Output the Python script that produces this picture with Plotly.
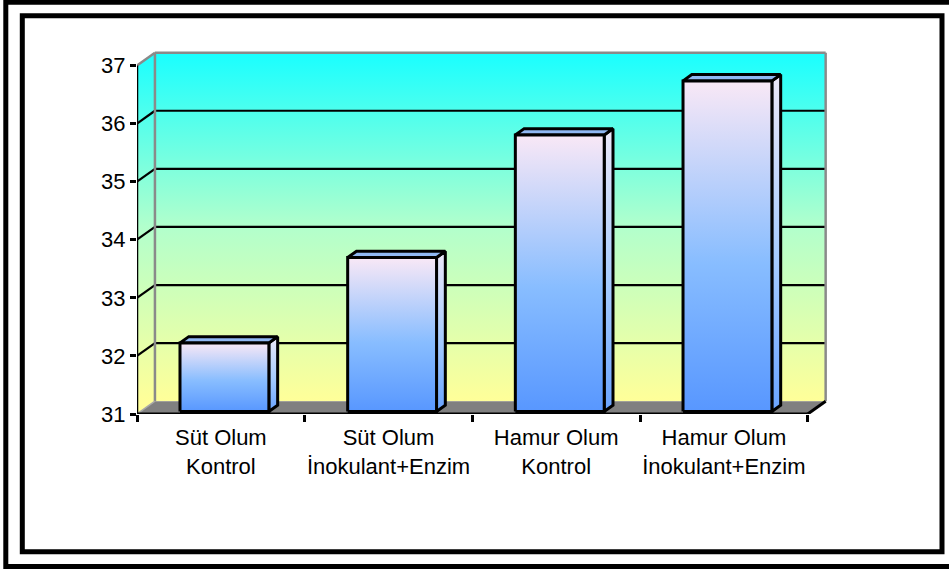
import plotly.graph_objects as go

# --- data ---------------------------------------------------------------
categories = [
    "Süt Olum<br>Kontrol",
    "Süt Olum<br>İnokulant+Enzim",
    "Hamur Olum<br>Kontrol",
    "Hamur Olum<br>İnokulant+Enzim",
]
values = [32.18, 33.65, 35.76, 36.69]
y_ticks = [31, 32, 33, 34, 35, 36, 37]

# --- layout geometry ----------------------------------------------------
W, H = 949, 572
M_L, M_R, M_T, M_B = 137, 120, 48, 158
PW, PH = W - M_L - M_R, H - M_T - M_B

Y_MIN, Y_MAX = y_ticks[0], y_ticks[-1]
DEPTH_X = 0.107   # oblique shift of the back plane (category units)
DEPTH_Y = 0.22    # oblique shift of the back plane (value units)
BAR_W = 0.53
BAR_D0, BAR_D1 = 0.2, 0.69

n = len(categories)
x_range = [0, n + DEPTH_X + 0.02]
y_range = [Y_MIN, Y_MAX + 0.3]

WALL_SCALE = [[0, "#ffff99"], [0.5, "#b2ffcc"], [1, "#19ffff"]]
FRONT_SCALE = [[0, "#5897ff"], [0.45, "#88bdff"], [1, "#f9e8f6"]]
SIDE_SCALE = [[0, "#6aa4ff"], [0.45, "#a6ccff"], [1, "#ece8f8"]]
TOP_COLOR = "#90b8f2"


def proj(x, v, d):
    """Oblique projection of a point at depth d (0 = front, 1 = back)."""
    return x + d * DEPTH_X, v + d * DEPTH_Y


fig = go.Figure()


def poly(pts, fillcolor=None, grad=None, line_color="rgba(0,0,0,0)", line_width=0):
    xs = [p[0] for p in pts] + [pts[0][0]]
    ys = [p[1] for p in pts] + [pts[0][1]]
    kw = dict(x=xs, y=ys, fill="toself", hoverinfo="skip", showlegend=False,
              mode="lines" if line_width else "none",
              line=dict(color=line_color, width=line_width))
    if grad is not None:
        kw["fillgradient"] = grad
    else:
        kw["fillcolor"] = fillcolor
    fig.add_trace(go.Scatter(**kw))


def seg(pts, color, width):
    xs, ys = [], []
    for a, b in pts:
        xs += [a[0], b[0], None]
        ys += [a[1], b[1], None]
    fig.add_trace(go.Scatter(x=xs, y=ys, mode="lines", hoverinfo="skip",
                             showlegend=False, line=dict(color=color, width=width)))


wall_grad = dict(type="vertical", colorscale=WALL_SCALE,
                 start=Y_MIN + DEPTH_Y, stop=Y_MAX + DEPTH_Y)

# side wall
poly([(0, Y_MIN), proj(0, Y_MIN, 1), proj(0, Y_MAX, 1), (0, Y_MAX)], grad=wall_grad)
# back wall
poly([proj(0, Y_MIN, 1), proj(n, Y_MIN, 1), proj(n, Y_MAX, 1), proj(0, Y_MAX, 1)],
     grad=wall_grad)
# floor
poly([(0, Y_MIN), (n, Y_MIN), proj(n, Y_MIN, 1), proj(0, Y_MIN, 1)], fillcolor="#808080")

# gridlines on side and back walls
grid = []
for v in y_ticks[1:-1]:
    grid.append(((0, v), proj(0, v, 1)))
    grid.append((proj(0, v, 1), proj(n, v, 1)))
seg(grid, "black", 2.2)

# wall borders
seg([(proj(0, Y_MIN, 1), proj(0, Y_MAX, 1)),
     (proj(0, Y_MAX, 1), proj(n, Y_MAX, 1)),
     (proj(n, Y_MAX, 1), proj(n, Y_MIN, 1)),
     ((0, Y_MAX), proj(0, Y_MAX, 1))], "#8a8a8a", 2.5)
seg([((0, Y_MIN), proj(0, Y_MIN, 1))], "#a8a8a8", 1.5)

# axis lines
seg([((0, Y_MIN), (0, Y_MAX))], "black", 2.5)
seg([((0, Y_MIN), (n, Y_MIN)), ((n, Y_MIN), proj(n, Y_MIN, 1))], "black", 3)

# bars
for i, v in enumerate(values):
    c = i + 0.5
    x0, x1 = c - BAR_W / 2, c + BAR_W / 2
    front = [proj(x0, Y_MIN, BAR_D0), proj(x1, Y_MIN, BAR_D0),
             proj(x1, v, BAR_D0), proj(x0, v, BAR_D0)]
    side = [proj(x1, Y_MIN, BAR_D0), proj(x1, Y_MIN, BAR_D1),
            proj(x1, v, BAR_D1), proj(x1, v, BAR_D0)]
    top = [proj(x0, v, BAR_D0), proj(x1, v, BAR_D0),
           proj(x1, v, BAR_D1), proj(x0, v, BAR_D1)]
    poly(side, grad=dict(type="vertical", colorscale=SIDE_SCALE,
                         start=Y_MIN + BAR_D0 * DEPTH_Y, stop=v + BAR_D1 * DEPTH_Y),
         line_color="black", line_width=3)
    poly(top, fillcolor=TOP_COLOR, line_color="black", line_width=3)
    poly(front, grad=dict(type="vertical", colorscale=FRONT_SCALE,
                          start=Y_MIN + BAR_D0 * DEPTH_Y, stop=v + BAR_D0 * DEPTH_Y),
         line_color="black", line_width=3)


# frames around the chart
def px_x(px):
    return (px - M_L) / PW


def px_y(py):
    return (H - M_B - py) / PH


shapes = [
    dict(type="rect", xref="paper", yref="paper",
         x0=px_x(5.8), x1=px_x(965), y0=px_y(2.2), y1=px_y(566.5),
         line=dict(color="black", width=5), fillcolor="rgba(0,0,0,0)", layer="above"),
    dict(type="rect", xref="paper", yref="paper",
         x0=px_x(22.3), x1=px_x(942), y0=px_y(15.8), y1=px_y(551.8),
         line=dict(color="black", width=5), fillcolor="rgba(0,0,0,0)", layer="above"),
]

font = dict(family="Liberation Sans, Arial, sans-serif", size=22, color="black")

fig.update_layout(
    width=W, height=H,
    margin=dict(l=M_L, r=M_R, t=M_T, b=M_B, pad=0),
    paper_bgcolor="white", plot_bgcolor="white",
    showlegend=False,
    shapes=shapes,
    font=font,
    xaxis=dict(range=x_range, tickmode="array",
               tickvals=[i + 0.5 for i in range(n)], ticktext=categories,
               ticks="", showgrid=False, zeroline=False, showline=False,
               tickfont=font, fixedrange=True, ticklabelstandoff=8,
               minor=dict(tickmode="array", tickvals=list(range(n + 1)),
                          ticks="outside", ticklen=7, tickwidth=2.5,
                          tickcolor="black", showgrid=False)),
    yaxis=dict(range=y_range, tickmode="array", tickvals=y_ticks,
               ticks="outside", ticklen=6, tickwidth=2.5, tickcolor="black",
               showgrid=False, zeroline=False, showline=False,
               tickfont=font, fixedrange=True),
)

fig.write_html("out.html")
